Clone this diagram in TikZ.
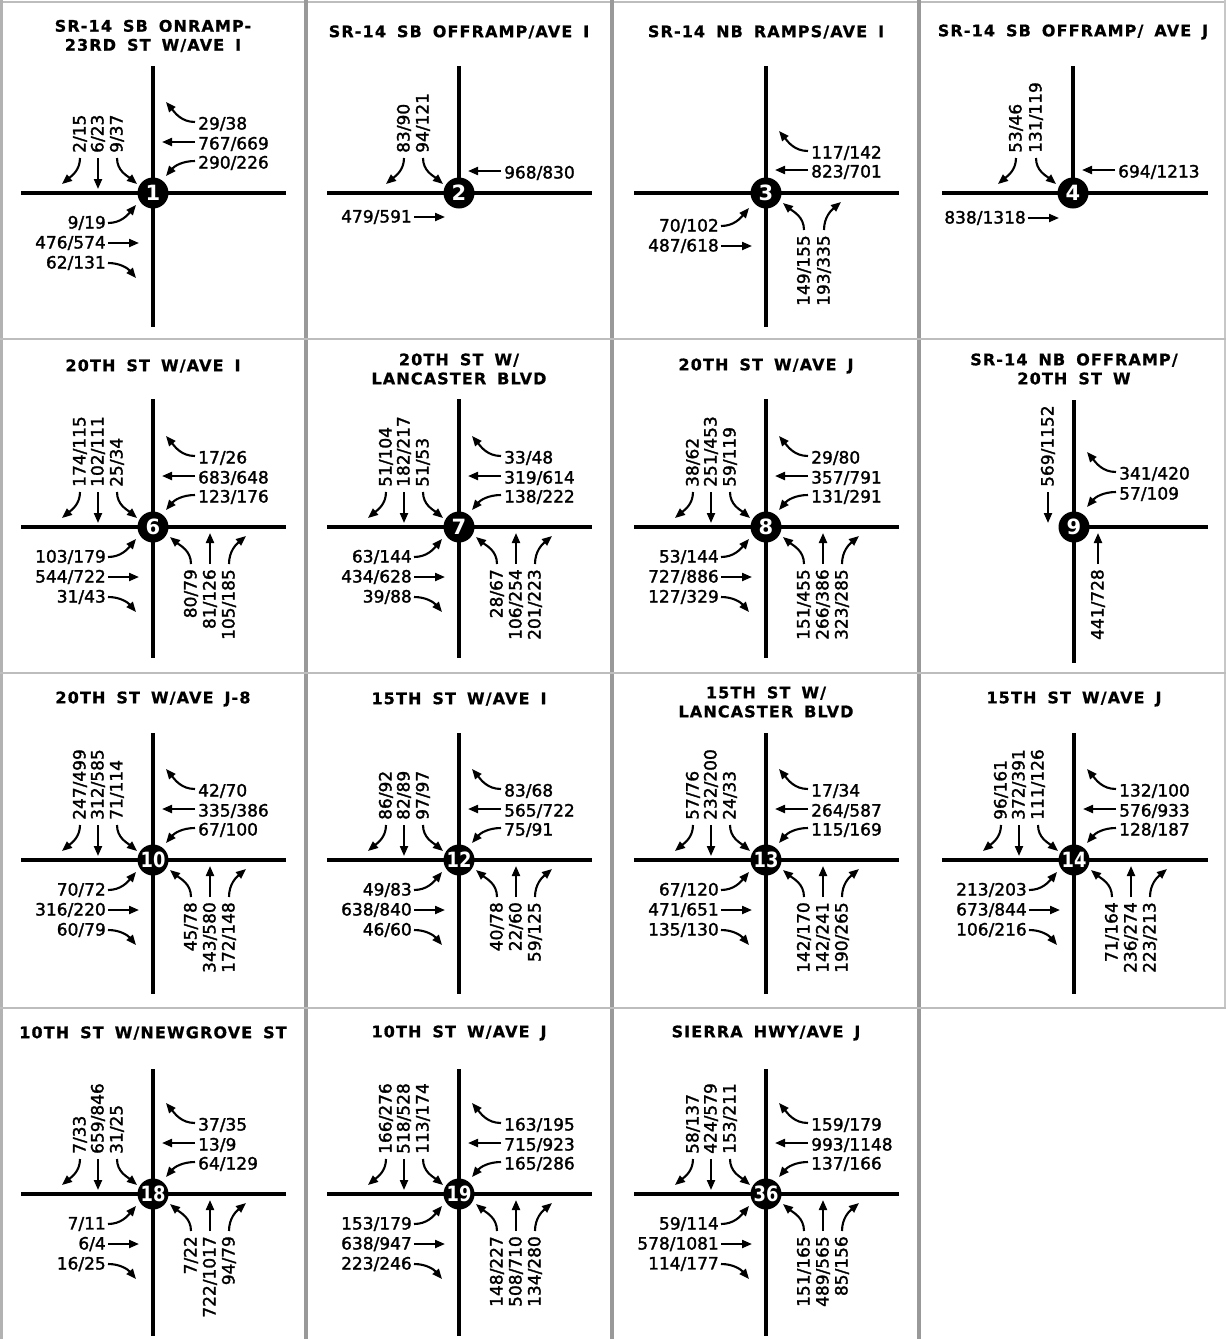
\documentclass[tikz,border=0pt]{standalone}
\usepackage{fontspec}
\usepackage{graphicx}
\usetikzlibrary{arrows.meta}
\newfontfamily\numfont[FakeBold=1.6]{DejaVu Sans}
\newfontfamily\ttlfont[LetterSpace=7,FakeBold=0.8]{DejaVu Sans}
\newfontfamily\cirfont{DejaVu Sans}
\newcommand\wg{\hspace{11pt}}
\newcommand\two[1]{\scalebox{0.85}[1]{#1}}
\tikzset{
  road/.style={line width=3.1pt},
  mv/.style={line width=2.1pt, -{Triangle[length=10pt,width=8pt]}},
  hlab/.style={inner sep=0pt, font=\numfont\fontsize{17}{17}\selectfont},
  vlab/.style={hlab, rotate=90},
  ttl/.style={inner sep=0pt, align=center, font=\ttlfont\bfseries\fontsize{16}{19}\selectfont},
  num/.style={circle, fill=black, inner sep=0pt, minimum size=31pt, text=white,
              font=\cirfont\bfseries\fontsize{21}{21}\selectfont},
  sepv/.style={line width=4pt, draw=black!40},
  seph/.style={line width=2pt, draw=black!26},
}
% roads
\newcommand\xroad[5]{%
  \coordinate (#1n) at (0,#2); \coordinate (#1s) at (0,#3);
  \coordinate (#1w) at (#4,0); \coordinate (#1e) at (#5,0);
  \draw[road] (#1n) -- (#1s); \draw[road] (#1w) -- (#1e);}
% southbound (labels above-left)
\newcommand\SBr[3]{\node[vlab,anchor=west] (#1) at (#2,40) {#3};
  \coordinate (#1t) at ({#2-18},9);
  \draw[mv] ([yshift=-5pt]#1.west) to[out=-90,in=40] (#1t);}
\newcommand\SBt[3]{\node[vlab,anchor=west] (#1) at (#2,40) {#3};
  \coordinate (#1t) at (#2,4);
  \draw[mv] ([yshift=-5pt]#1.west) -- (#1t);}
\newcommand\SBl[3]{\node[vlab,anchor=west] (#1) at (#2,40) {#3};
  \coordinate (#1t) at ({#2+20},9);
  \draw[mv] ([yshift=-5pt]#1.west) to[out=-90,in=140] (#1t);}
% westbound (labels above-right)
\newcommand\WBr[3]{\node[hlab,anchor=west] (#1) at (45,#2) {#3};
  \coordinate (#1t) at (13,{#2+22});
  \draw[mv] ([xshift=-3pt,yshift=2pt]#1.west) to[out=180,in=-50] (#1t);}
\newcommand\WBt[3]{\node[hlab,anchor=west] (#1) at (45,#2) {#3};
  \coordinate (#1t) at (9,{#2+2});
  \draw[mv] ([xshift=-3pt,yshift=2pt]#1.west) -- (#1t);}
\newcommand\WBl[3]{\node[hlab,anchor=west] (#1) at (45,#2) {#3};
  \coordinate (#1t) at (13,{#2-13});
  \draw[mv] ([xshift=-3pt,yshift=2pt]#1.west) to[out=180,in=50] (#1t);}
% eastbound (labels below-left)
\newcommand\EBl[3]{\node[hlab,anchor=east] (#1) at (-47,#2) {#3};
  \coordinate (#1t) at (-17,{#2+18});
  \draw[mv] ([xshift=2pt]#1.east) to[out=0,in=-130] (#1t);}
\newcommand\EBt[3]{\node[hlab,anchor=east] (#1) at (-47,#2) {#3};
  \coordinate (#1t) at (-14,#2);
  \draw[mv] ([xshift=2pt]#1.east) -- (#1t);}
\newcommand\EBr[3]{\node[hlab,anchor=east] (#1) at (-47,#2) {#3};
  \coordinate (#1t) at (-17,{#2-15});
  \draw[mv] ([xshift=2pt]#1.east) to[out=0,in=130] (#1t);}
% northbound (labels below-right)
\newcommand\NBl[3]{\node[vlab,anchor=east] (#1) at (#2,-42) {#3};
  \coordinate (#1t) at ({#2-21},-10);
  \draw[mv] ([yshift=5pt]#1.east) to[out=90,in=-40] (#1t);}
\newcommand\NBt[3]{\node[vlab,anchor=east] (#1) at (#2,-42) {#3};
  \coordinate (#1t) at (#2,-6);
  \draw[mv] ([yshift=5pt]#1.east) -- (#1t);}
\newcommand\NBr[3]{\node[vlab,anchor=east] (#1) at (#2,-42) {#3};
  \coordinate (#1t) at ({#2+17},-9);
  \draw[mv] ([yshift=5pt]#1.east) to[out=90,in=-140] (#1t);}
% full four-leg movement set
\newcommand\fullset[5]{% id, SB, WB, EB, NB  (each: {a}{b}{c})
  \fullsetSB{#1}#2\fullsetWB{#1}#3\fullsetEB{#1}#4\fullsetNB{#1}#5}
\newcommand\fullsetSB[4]{\SBr{#1sbr}{-73}{#2}\SBt{#1sbt}{-55}{#3}\SBl{#1sbl}{-36}{#4}}
\newcommand\fullsetWB[4]{\WBr{#1wbr}{69}{#2}\WBt{#1wbt}{49}{#3}\WBl{#1wbl}{30}{#4}}
\newcommand\fullsetEB[4]{\EBl{#1ebl}{-30}{#2}\EBt{#1ebt}{-50}{#3}\EBr{#1ebr}{-70}{#4}}
\newcommand\fullsetNB[4]{\NBl{#1nbl}{38}{#2}\NBt{#1nbt}{57}{#3}\NBr{#1nbr}{76}{#4}}

\begin{document}
\begin{tikzpicture}[x=1pt,y=1pt]
\useasboundingbox (0,0) rectangle (1226,-1339);
\fill[white] (0,0) rectangle (1226,-1339);
% separators and borders
\coordinate (bTL) at (0,-1.5); \coordinate (bTR) at (1226,-1.5);
\draw[seph] (bTL) -- (bTR);
\coordinate (bL1) at (1.5,0); \coordinate (bL2) at (1.5,-1339);
\draw[sepv, line width=3pt, draw=black!30] (bL1) -- (bL2);
\coordinate (bR1) at (1224.5,0); \coordinate (bR2) at (1224.5,-1008);
\draw[seph, draw=black!22] (bR1) -- (bR2);
\foreach \xx/\nm in {306/a,612/b,919/c}{
  \coordinate (v\nm1) at (\xx,0); \coordinate (v\nm2) at (\xx,-1339);
  \draw[sepv] (v\nm1) -- (v\nm2);}
\foreach \yy/\nm in {339/a,673/b,1008/c}{
  \coordinate (h\nm1) at (0,-\yy); \coordinate (h\nm2) at (1226,-\yy);
  \draw[seph] (h\nm1) -- (h\nm2);}

% ---------------- Row 1 ----------------
\begin{scope}[shift={(153,-193)}]
  \xroad{r1}{127}{-134}{-132}{133}
  \node[num] (c1) at (0,0) {1};
  \node[ttl] (t1) at (0,157) {SR-14\wg SB\wg ONRAMP-\\23RD\wg ST\wg W/AVE\wg I};
  \SBr{p1sbr}{-73}{2/15}\SBt{p1sbt}{-55}{6/23}\SBl{p1sbl}{-36}{9/37}
  \WBr{p1wbr}{69}{29/38}\WBt{p1wbt}{49}{767/669}\WBl{p1wbl}{30}{290/226}
  \EBl{p1ebl}{-30}{9/19}\EBt{p1ebt}{-50}{476/574}\EBr{p1ebr}{-70}{62/131}
\end{scope}
\begin{scope}[shift={(459,-193)}]
  \xroad{r2}{127}{0}{-132}{133}
  \node[num] (c2) at (0,0) {2};
  \node[ttl] (t2) at (0,161) {SR-14\wg SB\wg OFFRAMP/AVE\wg I};
  \SBr{p2sbr}{-55}{83/90}\SBl{p2sbl}{-36}{94/121}
  \WBt{p2wbt}{20}{968/830}
  \EBt{p2ebt}{-24}{479/591}
\end{scope}
\begin{scope}[shift={(766,-193)}]
  \xroad{r3}{127}{-134}{-132}{133}
  \node[num] (c3) at (0,0) {3};
  \node[ttl] (t3) at (0,161) {SR-14\wg NB\wg RAMPS/AVE\wg I};
  \WBr{p3wbr}{40}{117/142}\WBt{p3wbt}{21}{823/701}
  \EBl{p3ebl}{-33}{70/102}\EBt{p3ebt}{-53}{487/618}
  \NBl{p3nbl}{38}{149/155}\NBr{p3nbr}{58}{193/335}
\end{scope}
\begin{scope}[shift={(1073,-193)}]
  \xroad{r4}{127}{0}{-131}{135}
  \node[num] (c4) at (0,0) {4};
  \node[ttl] (t4) at (0,161) {SR-14\wg SB\wg OFFRAMP/\wg AVE\wg J};
  \SBr{p4sbr}{-57}{53/46}\SBl{p4sbl}{-37}{131/119}
  \WBt{p4wbt}{21}{694/1213}
  \EBt{p4ebt}{-25}{838/1318}
\end{scope}

% ---------------- Row 2 ----------------
\begin{scope}[shift={(153,-527)}]
  \xroad{r6}{128}{-131}{-132}{133}
  \node[num] (c6) at (0,0) {6};
  \node[ttl] (t6) at (0,161) {20TH\wg ST\wg W/AVE\wg I};
  \fullset{p6}{{174/115}{102/111}{25/34}}{{17/26}{683/648}{123/176}}{{103/179}{544/722}{31/43}}{{80/79}{81/126}{105/185}}
\end{scope}
\begin{scope}[shift={(459,-527)}]
  \xroad{r7}{128}{-131}{-132}{133}
  \node[num] (c7) at (0,0) {7};
  \node[ttl] (t7) at (0,158) {20TH\wg ST\wg W/\\LANCASTER\wg BLVD};
  \fullset{p7}{{51/104}{182/217}{51/53}}{{33/48}{319/614}{138/222}}{{63/144}{434/628}{39/88}}{{28/67}{106/254}{201/223}}
\end{scope}
\begin{scope}[shift={(766,-527)}]
  \xroad{r8}{128}{-131}{-132}{133}
  \node[num] (c8) at (0,0) {8};
  \node[ttl] (t8) at (0,161) {20TH\wg ST\wg W/AVE\wg J};
  \fullset{p8}{{38/62}{251/453}{59/119}}{{29/80}{357/791}{131/291}}{{53/144}{727/886}{127/329}}{{151/455}{266/386}{323/285}}
\end{scope}
\begin{scope}[shift={(1074,-527)}]
  \xroad{r9}{127}{-136}{0}{134}
  \node[num] (c9) at (0,0) {9};
  \node[ttl] (t9) at (0,158) {SR-14\wg NB\wg OFFRAMP/\\20TH\wg ST\wg W};
  \SBt{p9sbt}{-26}{569/1152}
  \WBr{p9wbr}{53}{341/420}\WBl{p9wbl}{33}{57/109}
  \NBt{p9nbt}{24}{441/728}
\end{scope}

% ---------------- Row 3 ----------------
\begin{scope}[shift={(153,-860)}]
  \xroad{r10}{127}{-134}{-132}{133}
  \node[num] (c10) at (0,0) {\two{10}};
  \node[ttl] (t10) at (0,161) {20TH\wg ST\wg W/AVE\wg J-8};
  \fullset{p10}{{247/499}{312/585}{71/114}}{{42/70}{335/386}{67/100}}{{70/72}{316/220}{60/79}}{{45/78}{343/580}{172/148}}
\end{scope}
\begin{scope}[shift={(459,-860)}]
  \xroad{r12}{127}{-134}{-132}{133}
  \node[num] (c12) at (0,0) {\two{12}};
  \node[ttl] (t12) at (0,161) {15TH\wg ST\wg W/AVE\wg I};
  \fullset{p12}{{86/92}{82/89}{97/97}}{{83/68}{565/722}{75/91}}{{49/83}{638/840}{46/60}}{{40/78}{22/60}{59/125}}
\end{scope}
\begin{scope}[shift={(766,-860)}]
  \xroad{r13}{127}{-134}{-132}{133}
  \node[num] (c13) at (0,0) {\two{13}};
  \node[ttl] (t13) at (0,158) {15TH\wg ST\wg W/\\LANCASTER\wg BLVD};
  \fullset{p13}{{57/76}{232/200}{24/33}}{{17/34}{264/587}{115/169}}{{67/120}{471/651}{135/130}}{{142/170}{142/241}{190/265}}
\end{scope}
\begin{scope}[shift={(1074,-860)}]
  \xroad{r14}{127}{-134}{-132}{134}
  \node[num] (c14) at (0,0) {\two{14}};
  \node[ttl] (t14) at (0,161) {15TH\wg ST\wg W/AVE\wg J};
  \fullset{p14}{{96/161}{372/391}{111/126}}{{132/100}{576/933}{128/187}}{{213/203}{673/844}{106/216}}{{71/164}{236/274}{223/213}}
\end{scope}

% ---------------- Row 4 ----------------
\begin{scope}[shift={(153,-1194)}]
  \xroad{r18}{125}{-142}{-132}{133}
  \node[num] (c18) at (0,0) {\two{18}};
  \node[ttl] (t18) at (0,161) {10TH\wg ST\wg W/NEWGROVE\wg ST};
  \fullset{p18}{{7/33}{659/846}{31/25}}{{37/35}{13/9}{64/129}}{{7/11}{6/4}{16/25}}{{7/22}{722/1017}{94/79}}
\end{scope}
\begin{scope}[shift={(459,-1194)}]
  \xroad{r19}{125}{-142}{-132}{133}
  \node[num] (c19) at (0,0) {\two{19}};
  \node[ttl] (t19) at (0,161) {10TH\wg ST\wg W/AVE\wg J};
  \fullset{p19}{{166/276}{518/528}{113/174}}{{163/195}{715/923}{165/286}}{{153/179}{638/947}{223/246}}{{148/227}{508/710}{134/280}}
\end{scope}
\begin{scope}[shift={(766,-1194)}]
  \xroad{r36}{125}{-142}{-132}{133}
  \node[num] (c36) at (0,0) {\two{36}};
  \node[ttl] (t36) at (0,161) {SIERRA\wg HWY/AVE\wg J};
  \fullset{p36}{{58/137}{424/579}{153/211}}{{159/179}{993/1148}{137/166}}{{59/114}{578/1081}{114/177}}{{151/165}{489/565}{85/156}}
\end{scope}
\end{tikzpicture}
\end{document}
